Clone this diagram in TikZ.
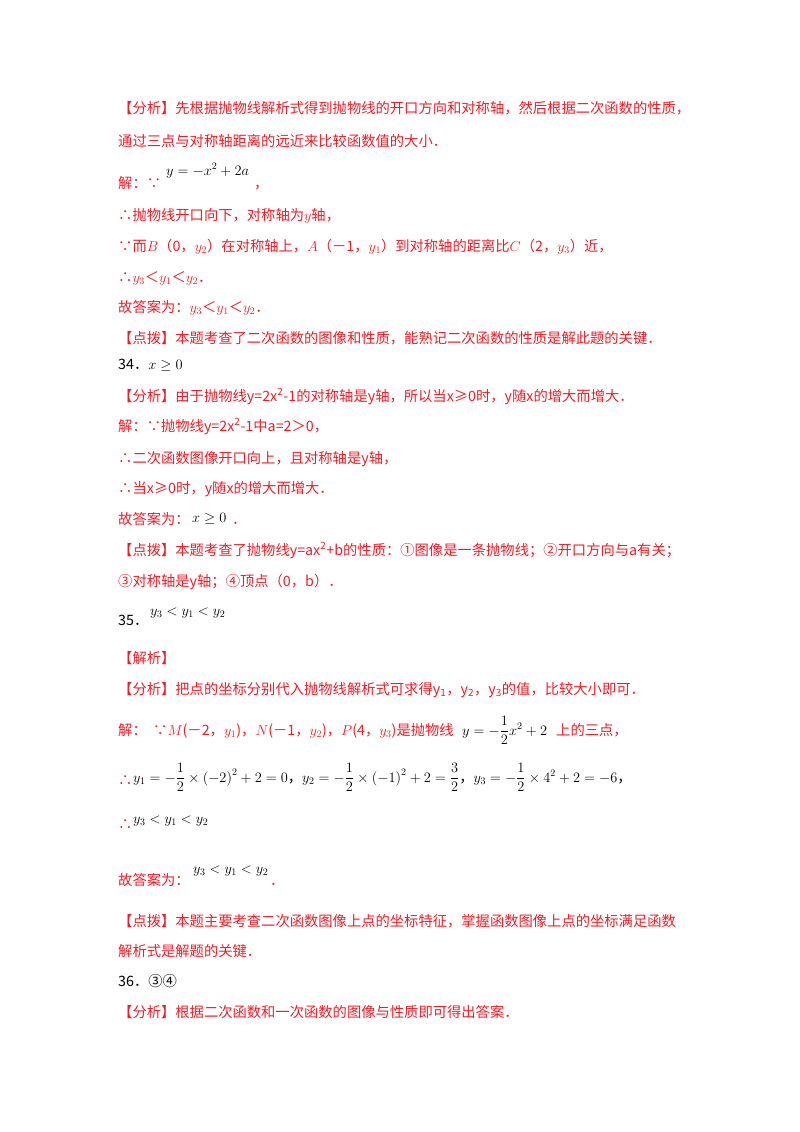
\documentclass[tikz,border=0pt]{standalone}
\usepackage{amsmath}
\usepackage{fontspec}
\setmainfont{Noto Sans CJK SC}
\definecolor{rd}{RGB}{235,30,40}
\begin{document}
\begin{tikzpicture}[x=1pt,y=-1pt,
  t/.style={anchor=base west,inner sep=0pt,text=rd,font=\fontsize{14.3}{16}\selectfont},
  k/.style={anchor=base west,inner sep=0pt,text=black,font=\fontsize{14.3}{16}\selectfont}]
\useasboundingbox (0,0) rectangle (800,1132);
\node[t] (l1) at (118,113) {【分析】先根据抛物线解析式得到抛物线的开口方向和对称轴，然后根据二次函数的性质，};
\node[t] (l2) at (118,146) {通过三点与对称轴距离的远近来比较函数值的大小．};
\node[t] (l3) at (118,188) {解：∵};
\node[k] (l3m) at (166,175) {$y=-x^2+2a$};
\node[t] (l3c) at (254,188) {，};
\node[t] (l4) at (118,220) {∴抛物线开口向下，对称轴为$y$轴，};
\node[t] (l5) at (118,251) {∵而$B$（0，$y_2$）在对称轴上，$A$（－1，$y_1$）到对称轴的距离比$C$（2，$y_3$）近，};
\node[t] (l6) at (118,282) {∴$y_3$＜$y_1$＜$y_2$．};
\node[t] (l7) at (118,312) {故答案为：$y_3$＜$y_1$＜$y_2$．};
\node[t] (l8) at (118,343) {【点拨】本题考查了二次函数的图像和性质，能熟记二次函数的性质是解此题的关键．};
\node[k] (n34) at (118,369) {34．$x\ge0$};
\node[t] (l9) at (118,401) {【分析】由于抛物线y=2x\textsuperscript{2}-1的对称轴是y轴，所以当x≥0时，y随x的增大而增大．};
\node[t] (l10) at (118,431) {解：∵抛物线y=2x\textsuperscript{2}-1中a=2＞0，};
\node[t] (l11) at (118,463) {∴二次函数图像开口向上，且对称轴是y轴，};
\node[t] (l12) at (118,493) {∴当x≥0时，y随x的增大而增大．};
\node[t] (l13) at (118,524) {故答案为：};
\node[k] (l13m) at (192,522) {$x\ge0$};
\node[t] (l13d) at (232,524) {．};
\node[t] (l14) at (118,555) {【点拨】本题考查了抛物线y=ax\textsuperscript{2}+b的性质：①图像是一条抛物线；②开口方向与a有关；};
\node[t] (l15) at (118,586) {③对称轴是y轴；④顶点（0，b）．};
\node[k] (n35) at (118,625) {35．};
\node[k] (n35m) at (150,615) {$y_3<y_1<y_2$};
\node[t] (l16) at (118,663) {【解析】};
\node[t] (l17) at (118,694) {【分析】把点的坐标分别代入抛物线解析式可求得y\textsubscript{1}，y\textsubscript{2}，y\textsubscript{3}的值，比较大小即可．};
\node[t] (l18) at (118,735) {解：\ \ ∵$M$(－2，$y_1$)，$N$(－1，$y_2$)，$P$(4，$y_3$)是抛物线};
\node[k] (l18m) at (462,735) {$y=-\dfrac12x^2+2$};
\node[t] (l18e) at (556,735) {上的三点，};
\node[t] (l19) at (118,785) {∴};
\node[k] (l19m) at (133,782) {$y_1=-\dfrac12\times\left(-2\right)^2+2=0$，$y_2=-\dfrac12\times\left(-1\right)^2+2=\dfrac32$，$y_3=-\dfrac12\times4^2+2=-6$，};
\node[t] (l20) at (118,829) {∴};
\node[k] (l20m) at (133,823) {$y_3<y_1<y_2$};
\node[t] (l21) at (118,885) {故答案为：};
\node[k] (l21m) at (193,873) {$y_3<y_1<y_2$};
\node[t] (l21d) at (270,885) {．};
\node[t] (l22) at (118,926) {【点拨】本题主要考查二次函数图像上点的坐标特征，掌握函数图像上点的坐标满足函数};
\node[t] (l23) at (118,956) {解析式是解题的关键．};
\node[k] (n36) at (118,986) {36．③④};
\node[t] (l24) at (118,1017) {【分析】根据二次函数和一次函数的图像与性质即可得出答案．};
\end{tikzpicture}
\end{document}
